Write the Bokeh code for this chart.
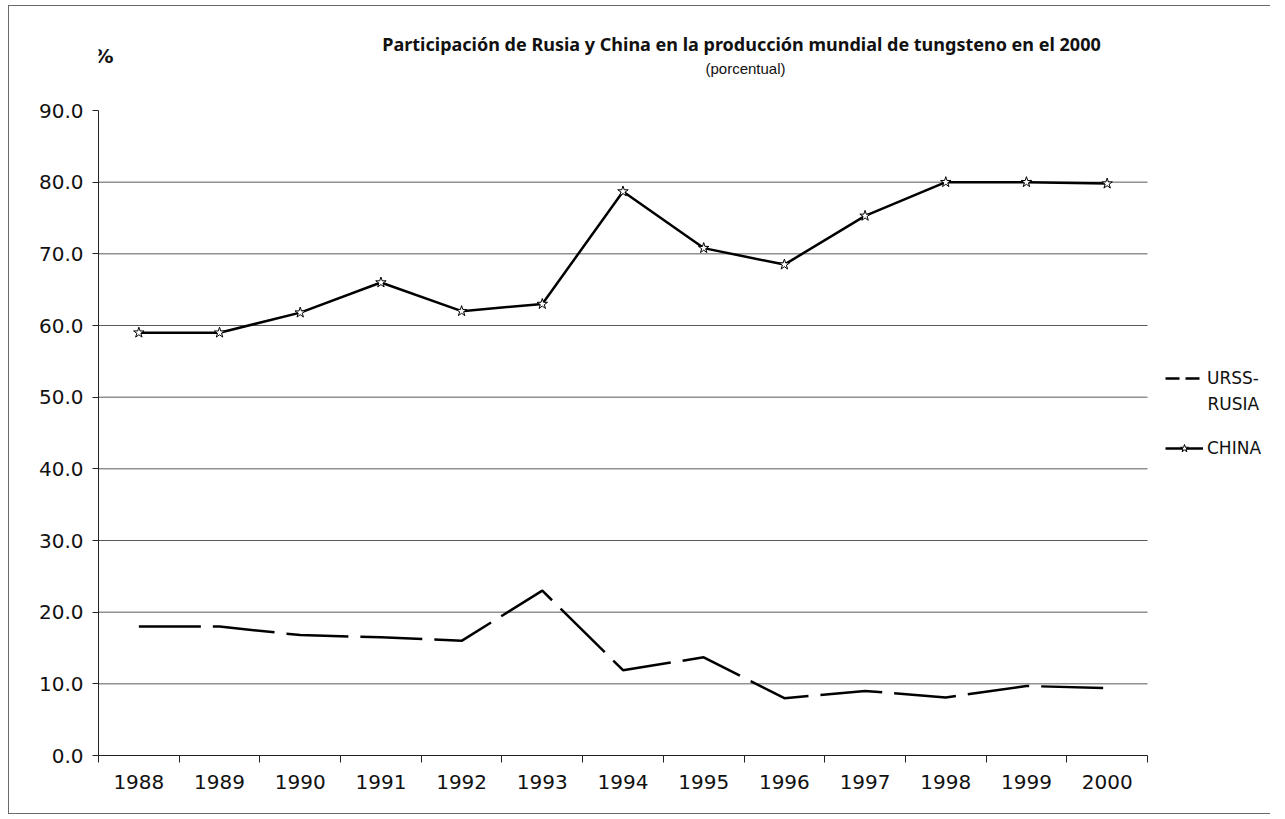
import numpy as np
from bokeh.plotting import figure
from bokeh.models import (FixedTicker, Range1d, Label, Legend, LegendItem,
                          NumeralTickFormatter)
from bokeh.embed import file_html
from bokeh.resources import INLINE

years = ["1988", "1989", "1990", "1991", "1992", "1993", "1994",
         "1995", "1996", "1997", "1998", "1999", "2000"]
china = [59.0, 59.0, 61.8, 66.0, 62.0, 63.0, 78.7, 70.8, 68.5, 75.3, 80.0, 80.0, 79.8]
russia = [18.0, 18.0, 16.8, 16.5, 16.0, 23.0, 11.9, 13.7, 8.0, 9.0, 8.1, 9.7, 9.4]
y_ticks = [0, 10, 20, 30, 40, 50, 60, 70, 80, 90]
grid_vals = [10, 20, 30, 40, 50, 60, 70, 80]

title_text = "Participación de Rusia y China en la producción mundial de tungsteno en el 2000"
subtitle_text = "(porcentual)"

W, H = 1285, 819
FL, FR, FT, FB = 98, 1147, 110, 755  # plot-area edges in canvas px
n = len(years)
ymax = y_ticks[-1]

# the frame covers everything right of the y axis and above the x axis,
# so that titles and legend (drawn inside the frame) are not clipped
x_end = n * (W - FL) / (FR - FL)
y_end = ymax * FB / (FB - FT)

xs = np.arange(n) + 0.5

p = figure(width=W, height=H, output_backend="svg", toolbar_location=None,
           x_range=Range1d(0, x_end), y_range=Range1d(0, y_end),
           min_border_left=FL, min_border_right=0,
           min_border_top=0, min_border_bottom=H - FB)
p.background_fill_color = None
p.border_fill_color = None
p.outline_line_color = None
bc = "#6a6a6a"
p.styles = {"background": (
    f"linear-gradient({bc},{bc}) 8px 5px / 1px 809px no-repeat, "
    f"linear-gradient({bc},{bc}) 8px 5px / 1262px 1px no-repeat, "
    f"linear-gradient({bc},{bc}) 8px 813px / 1262px 1px no-repeat, "
    "#ffffff")}

p.xgrid.visible = False
p.ygrid.visible = False
p.segment(x0=0, x1=n, y0=grid_vals, y1=grid_vals, line_color="#5a5a5a", line_width=1)

# y axis
p.yaxis.ticker = FixedTicker(ticks=y_ticks)
p.yaxis.bounds = (0, ymax)
p.yaxis.formatter = NumeralTickFormatter(format="0.0")
p.yaxis.axis_line_color = "#222222"
p.yaxis.major_tick_line_color = "#222222"
p.yaxis.major_tick_out = 6
p.yaxis.major_tick_in = 0
p.yaxis.minor_tick_line_color = None
p.yaxis.major_label_text_font = "DejaVu Sans"
p.yaxis.major_label_text_font_size = "20px"
p.yaxis.major_label_text_color = "#111111"
p.yaxis.major_label_standoff = 9

# x axis: labels at category centres, ticks between categories
p.xaxis.ticker = FixedTicker(ticks=list(xs), minor_ticks=list(range(n + 1)))
p.xaxis.bounds = (0, n)
p.xaxis.major_label_overrides = {float(x): y for x, y in zip(xs, years)}
p.xaxis.axis_line_color = "#222222"
p.xaxis.major_tick_line_color = None
p.xaxis.minor_tick_line_color = "#222222"
p.xaxis.minor_tick_out = 7
p.xaxis.minor_tick_in = 0
p.xaxis.major_label_text_font = "DejaVu Sans"
p.xaxis.major_label_text_font_size = "20px"
p.xaxis.major_label_text_color = "#111111"
p.xaxis.major_label_standoff = 12

# series
r_rus = p.line(xs, russia, line_color="black", line_width=2.5, line_dash="62 12")
r_chn = p.line(xs, china, line_color="black", line_width=2.5)
r_chn_m = p.scatter(xs, china, marker="star", size=11, fill_color="white",
                    line_color="black", line_width=1)

# legend (its own sample glyph for the dashed series, shorter dashes)
r_rus_leg = p.line([0, 0], [0, 0], line_color="black", line_width=2.5, line_dash="14 6")
legend = Legend(items=[LegendItem(label="URSS-", renderers=[r_rus_leg]),
                       LegendItem(label="CHINA", renderers=[r_chn, r_chn_m])],
                location=(1165 - FL, FB - 458), orientation="vertical",
                glyph_width=38, glyph_height=20, label_height=20,
                label_standoff=4, spacing=50, padding=0, margin=0,
                border_line_color=None, background_fill_alpha=0,
                label_text_font="DejaVu Sans", label_text_font_size="17px",
                label_text_color="#111111")
p.add_layout(legend, "center")


def lab(text, cx, cy, size, bold=False, align="center", font="DejaVu Sans"):
    p.add_layout(Label(x=cx - FL, y=FB - cy, x_units="screen", y_units="screen",
                       text=text, text_align=align, text_baseline="middle",
                       text_font=font, text_font_size=size,
                       text_font_style="bold" if bold else "normal",
                       text_color="#111111"))


lab("RUSIA", 1207, 403, "17px", align="left")
lab(title_text, 741, 43, "18px", bold=True, font="Noto Sans")
lab(subtitle_text, 745, 68, "15px", font="Liberation Sans")
lab("%", 103, 55, "20px", bold=True)

open("out.html", "w").write(file_html(p, INLINE))
